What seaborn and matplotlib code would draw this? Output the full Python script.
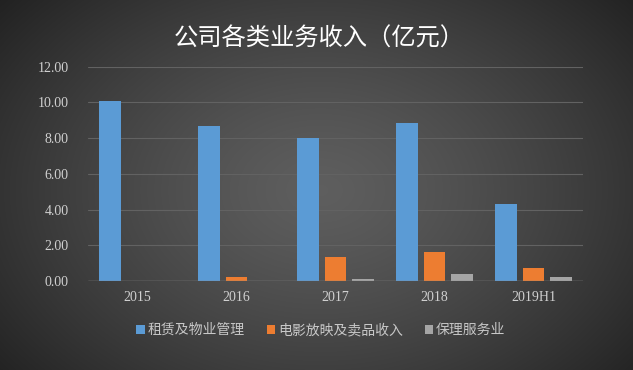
import numpy as np
import pandas as pd
import matplotlib
matplotlib.use('Agg')
import matplotlib.pyplot as plt
import seaborn as sns

# 数据
years = ['2015', '2016', '2017', '2018', '2019H1']
series_names = ['租赁及物业管理', '电影放映及卖品收入', '保理服务业']
rent = [10.10, 8.67, 7.98, 8.82, 4.31]
film = [0.00, 0.20, 1.36, 1.64, 0.75]
factoring = [0.00, 0.00, 0.12, 0.39, 0.20]
colors = ['#5B9BD5', '#ED7D31', '#A5A5A5']
yticks = [0, 2, 4, 6, 8, 10, 12]

df = pd.DataFrame({'年份': years * 3,
                   '业务': [s for s in series_names for _ in years],
                   '收入': rent + film + factoring})

sns.set_style('dark')
plt.rcParams['font.family'] = ['Noto Sans CJK SC', 'DejaVu Sans']

fig = plt.figure(figsize=(6.33, 3.70), dpi=100)

# 径向渐变背景
bg = fig.add_axes([0, 0, 1, 1], zorder=0)
yy, xx = np.mgrid[0:370, 0:633]
r = np.sqrt(((xx - 320) / 420) ** 2 + ((yy - 190) / 300) ** 2)
r = np.clip(r, 0, 1)
c0, c1 = 0.37, 0.13
grad = c0 + (c1 - c0) * r ** 1.3
bg.imshow(np.dstack([grad, grad, grad]), aspect='auto', extent=[0, 1, 0, 1])
bg.set_axis_off()

ax = fig.add_axes([88 / 633, 1 - 281 / 370, 495 / 633, 214.4 / 370], zorder=1)
ax.patch.set_alpha(0)

sns.barplot(data=df, x='年份', y='收入', hue='业务', palette=colors,
            width=0.83, gap=0.2, ax=ax, legend=True, saturation=1,
            linewidth=0, edgecolor='none')

ax.set_ylim(0, 12)
ax.set_yticks(yticks)
ax.set_yticklabels([f'{v:.2f}' for v in yticks], family='Liberation Serif',
                   fontsize=10, color='#d0d0d0')
ax.set_xticks(range(len(years)))
ax.set_xticklabels(years, family='Liberation Serif', fontsize=10, color='#d0d0d0')
ax.tick_params(axis='y', length=0, pad=14)
ax.tick_params(axis='x', length=0, pad=7)
ax.set_xlabel('')
ax.set_ylabel('')
ax.grid(axis='y', color='#626262', linewidth=0.8)
ax.grid(axis='x', visible=False)
ax.set_axisbelow(True)
for s in ax.spines.values():
    s.set_visible(False)
ax.axhline(0, color='#8a8a8a', linewidth=1, zorder=3)

handles, labels = ax.get_legend_handles_labels()
ax.get_legend().remove()
fig.legend(handles, labels, loc='center', bbox_to_anchor=(321 / 633, 1 - 330 / 370),
           ncol=3, frameon=False, handlelength=0.6, handleheight=0.6,
           handletextpad=0.2, columnspacing=1.6, labelcolor='#c8c8c8',
           prop={'family': ['Noto Sans CJK SC', 'DejaVu Sans'], 'size': 10})

fig.text(0.504, 1 - 39 / 370, '公司各类业务收入（亿元）', ha='center', va='center',
         fontsize=17.5, color='white')

fig.savefig('out.png', dpi=100)
